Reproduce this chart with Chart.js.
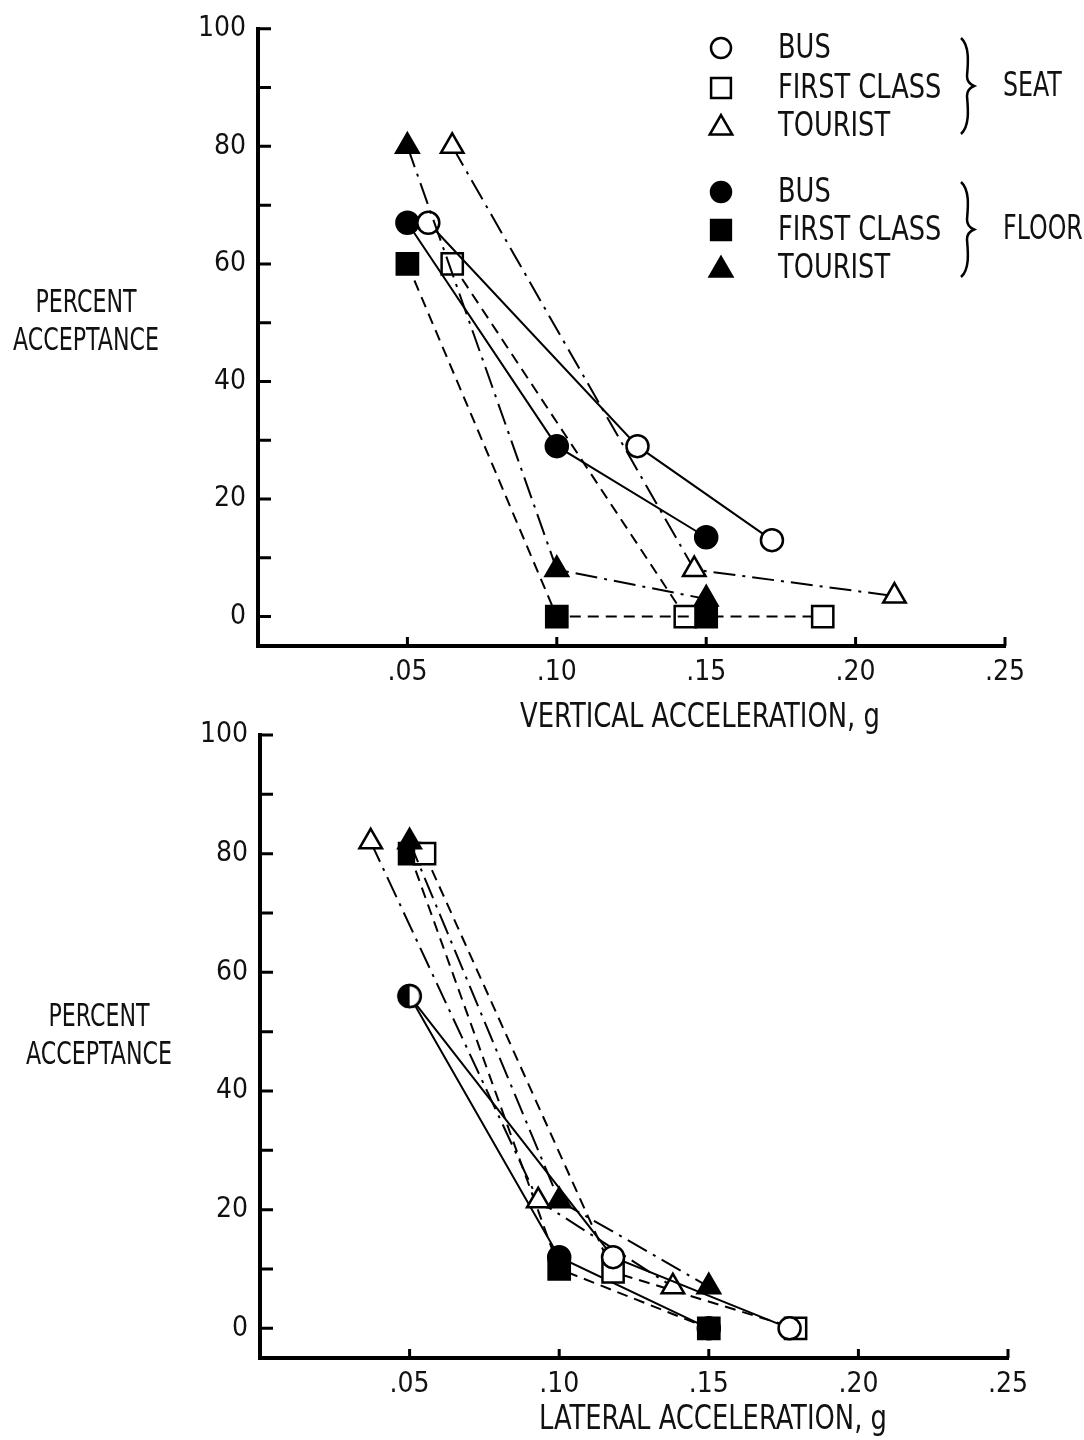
<!DOCTYPE html>
<html>
<head>
<meta charset="utf-8">
<title>Percent acceptance vs acceleration</title>
<script src="https://cdn.jsdelivr.net/npm/chart.js@4.4.1/dist/chart.umd.min.js"></script>
<style>
  html, body { margin: 0; padding: 0; background: #fff; }
  #wrap { position: relative; width: 1084px; height: 1440px; }
  canvas { position: absolute; left: 0; }
  #vertical { top: 0; }
  #lateral { top: 700px; }
</style>
</head>
<body>
<div id="wrap">
  <canvas id="vertical" width="1084" height="740"></canvas>
  <canvas id="lateral" width="1084" height="740"></canvas>
</div>
<script>
  'use strict'

  // ---- data (acceleration in g, acceptance in %) ----
  // vertical acceleration
  const vSeatBusG = [0.057, 0.127, 0.172];
  const vSeatBusPct = [67, 29, 13];
  const vFloorBusG = [0.050, 0.100, 0.150];
  const vFloorBusPct = [67, 29, 13.5];
  const vSeatFirstG = [0.065, 0.143, 0.189];
  const vSeatFirstPct = [60, 0, 0];
  const vFloorFirstG = [0.050, 0.100, 0.150];
  const vFloorFirstPct = [60, 0, 0];
  const vSeatTouristG = [0.065, 0.146, 0.213];
  const vSeatTouristPct = [80, 8, 3.5];
  const vFloorTouristG = [0.050, 0.100, 0.150];
  const vFloorTouristPct = [80, 8, 3];

  // lateral acceleration
  const lSeatBusG = [0.050, 0.118, 0.177];
  const lSeatBusPct = [56, 12, 0];
  const lFloorBusG = [0.050, 0.100, 0.150];
  const lFloorBusPct = [56, 12, 0];
  const lSeatFirstG = [0.055, 0.118, 0.179];
  const lSeatFirstPct = [80, 9.5, 0];
  const lFloorFirstG = [0.050, 0.100, 0.150];
  const lFloorFirstPct = [80, 10, 0];
  const lSeatTouristG = [0.037, 0.093, 0.138];
  const lSeatTouristPct = [82, 21.5, 7];
  const lFloorTouristG = [0.050, 0.100, 0.150];
  const lFloorTouristPct = [82, 21.5, 7];

  const seriesNames = ['BUS', 'FIRST CLASS', 'TOURIST'];
  const groupNames = ['SEAT', 'FLOOR'];
  const xTickValues = [0.05, 0.10, 0.15, 0.20, 0.25];
  const xTickLabels = ['.05', '.10', '.15', '.20', '.25'];
  const yTickValues = [0, 20, 40, 60, 80, 100];
  const yMinorTicks = [10, 30, 50, 70, 90];

  const FONT = "'Liberation Sans Narrow', 'DejaVu Sans Condensed', 'DejaVu Sans', sans-serif";
  Chart.defaults.font.family = FONT;
  Chart.defaults.color = '#111';

  const marker = [
    { style: 'circle', radius: 11 },
    { style: 'rect', radius: 15 },
    { style: 'triangle', radius: 13 }
  ];
  const dashes = [[], [11, 7], [22, 7, 3, 7]];

  function pts(xs, ys) {
    return xs.map((x, i) => ({ x: x, y: ys[i] }));
  }

  // left half filled disc, used where the seat and floor bus points coincide
  function halfDisc(r) {
    const c = document.createElement('canvas');
    c.width = c.height = 2 * r + 6;
    const g = c.getContext('2d');
    const m = r + 3;
    g.fillStyle = '#fff';
    g.beginPath(); g.arc(m, m, r, 0, 2 * Math.PI); g.fill();
    g.fillStyle = '#000';
    g.beginPath(); g.arc(m, m, r, Math.PI / 2, 3 * Math.PI / 2); g.closePath(); g.fill();
    g.lineWidth = 2.5; g.strokeStyle = '#000';
    g.beginPath(); g.arc(m, m, r, 0, 2 * Math.PI); g.stroke();
    return c;
  }

  function ds(label, kind, filled, data, order) {
    return {
      label: label,
      data: data,
      showLine: true,
      borderColor: '#000',
      borderWidth: 2,
      borderDash: dashes[kind],
      pointStyle: marker[kind].style,
      pointRadius: marker[kind].radius,
      pointHoverRadius: marker[kind].radius,
      pointBackgroundColor: filled ? '#000' : '#fff',
      pointBorderColor: '#000',
      pointBorderWidth: 2.5,
      clip: false,
      order: order
    };
  }

  // the lettering on the original is tall and narrow, so squeeze it a bit
  function narrowText(ctx, text, x, y, size, sx, align) {
    ctx.save();
    ctx.font = size + 'px ' + FONT;
    ctx.textAlign = align;
    ctx.textBaseline = 'middle';
    ctx.translate(x, y);
    ctx.scale(sx, 1);
    ctx.fillText(text, 0, 0);
    ctx.restore();
  }

  // inward axis ticks, axis titles and the bracketed legend
  function decor(opts) {
    return {
      id: 'decor',
      afterDraw(chart) {
        const ctx = chart.ctx;
        const xs = chart.scales.x, ys = chart.scales.y;
        const area = chart.chartArea;
        ctx.save();
        ctx.strokeStyle = '#000';
        ctx.lineWidth = 3;
        ctx.beginPath();
        yTickValues.concat(yMinorTicks).forEach(v => {
          const y = ys.getPixelForValue(v);
          ctx.moveTo(area.left, y);
          ctx.lineTo(area.left + 13, y);
        });
        [0].concat(xTickValues).forEach(v => {
          const x = xs.getPixelForValue(v);
          ctx.moveTo(x, area.bottom);
          ctx.lineTo(x, area.bottom - 9);
        });
        ctx.stroke();

        ctx.fillStyle = '#111';
        narrowText(ctx, opts.xTitle, opts.xTitleAt[0], opts.xTitleAt[1], 33, 0.87, 'center');
        narrowText(ctx, 'PERCENT', opts.yTitleAt[0], opts.yTitleAt[1], 32, 0.77, 'center');
        narrowText(ctx, 'ACCEPTANCE', opts.yTitleAt[0], opts.yTitleAt[1] + 38, 32, 0.77, 'center');

        if (opts.legend) {
          const lx = 721, tx = 778;
          const rows = [48, 88, 126, 192, 230, 268];
          rows.forEach((y, i) => {
            const k = i % 3;
            const filled = i >= 3;
            ctx.fillStyle = filled ? '#000' : '#fff';
            ctx.strokeStyle = '#000';
            ctx.lineWidth = 2.5;
            Chart.helpers.drawPoint(ctx, {
              pointStyle: marker[k].style,
              radius: k === 0 ? 10 : (k === 1 ? 14 : 13),
              rotation: 0,
              borderWidth: 2.5
            }, lx, k === 2 ? y + 2 : y);
            ctx.fillStyle = '#111';
            narrowText(ctx, seriesNames[k], tx, y + 1, 33, 0.865, 'left');
          });
          [[38, 134], [182, 277]].forEach((b, i) => {
            const [y0, y1] = b;
            const ym = (y0 + y1) / 2;
            ctx.lineWidth = 2.5;
            ctx.strokeStyle = '#000';
            ctx.beginPath();
            ctx.moveTo(961, y0);
            ctx.bezierCurveTo(970, y0 + 8, 968, ym - 22, 967, ym - 10);
            ctx.quadraticCurveTo(967, ym - 3, 974, ym);
            ctx.quadraticCurveTo(967, ym + 3, 967, ym + 10);
            ctx.bezierCurveTo(968, ym + 22, 970, y1 - 8, 961, y1);
            ctx.stroke();
            ctx.fillStyle = '#111';
            narrowText(ctx, groupNames[i], 1003, ym + 1, 33, 0.8, 'left');
          });
        }
        ctx.restore();
      }
    };
  }

  function makeChart(id, datasets, box, opts) {
    const canvas = document.getElementById(id);
    return new Chart(canvas, {
      type: 'scatter',
      data: { datasets: datasets },
      options: {
        responsive: false,
        animation: false,
        events: [],
        layout: { padding: { top: box.top, right: canvas.width - box.right, left: 0, bottom: 0 } },
        plugins: { legend: { display: false }, tooltip: { enabled: false } },
        scales: {
          x: {
            type: 'linear',
            min: 0,
            max: 0.25,
            afterBuildTicks: s => { s.ticks = xTickValues.map(v => ({ value: v })); },
            afterFit: s => { s.height = canvas.height - box.bottom; },
            grid: { display: false, drawTicks: false },
            border: { display: true, color: '#000', width: 4 },
            ticks: {
              autoSkip: false,
              maxRotation: 0,
              padding: 10,
              font: { size: 28 },
              color: '#111',
              callback: (v, i) => xTickLabels[i]
            }
          },
          y: {
            type: 'linear',
            min: -5,
            max: 100,
            afterBuildTicks: s => { s.ticks = yTickValues.map(v => ({ value: v })); },
            afterFit: s => { s.width = box.left; },
            grid: { display: false, drawTicks: false },
            border: { display: true, color: '#000', width: 4 },
            ticks: {
              padding: 12,
              font: { size: 28 },
              color: '#111',
              callback: v => String(v)
            }
          }
        }
      },
      plugins: [decor(opts)]
    });
  }

  const half = halfDisc(11);

  const verticalSets = [
    ds('Seat bus', 0, false, pts(vSeatBusG, vSeatBusPct), 2),
    ds('Floor bus', 0, true, pts(vFloorBusG, vFloorBusPct), 3),
    ds('Seat first class', 1, false, pts(vSeatFirstG, vSeatFirstPct), 5),
    ds('Floor first class', 1, true, pts(vFloorFirstG, vFloorFirstPct), 4),
    ds('Seat tourist', 2, false, pts(vSeatTouristG, vSeatTouristPct), 1),
    ds('Floor tourist', 2, true, pts(vFloorTouristG, vFloorTouristPct), 0)
  ];

  const lateralSeatBus = ds('Seat bus', 0, false, pts(lSeatBusG, lSeatBusPct), 0);
  lateralSeatBus.pointStyle = c => (c.dataIndex === 0 ? half : 'circle');

  const lateralSets = [
    lateralSeatBus,
    ds('Floor bus', 0, true, pts(lFloorBusG, lFloorBusPct), 4),
    ds('Seat first class', 1, false, pts(lSeatFirstG, lSeatFirstPct), 3),
    ds('Floor first class', 1, true, pts(lFloorFirstG, lFloorFirstPct), 5),
    ds('Seat tourist', 2, false, pts(lSeatTouristG, lSeatTouristPct), 2),
    ds('Floor tourist', 2, true, pts(lFloorTouristG, lFloorTouristPct), 1)
  ];

  makeChart('vertical', verticalSets,
    { left: 258, top: 25, right: 1005, bottom: 646 },
    { xTitle: 'VERTICAL ACCELERATION, g', xTitleAt: [700, 718], yTitleAt: [86, 304], legend: true });

  makeChart('lateral', lateralSets,
    { left: 260, top: 35, right: 1008, bottom: 658 },
    { xTitle: 'LATERAL ACCELERATION, g', xTitleAt: [713, 720], yTitleAt: [99, 318], legend: false });
</script>
</body>
</html>
